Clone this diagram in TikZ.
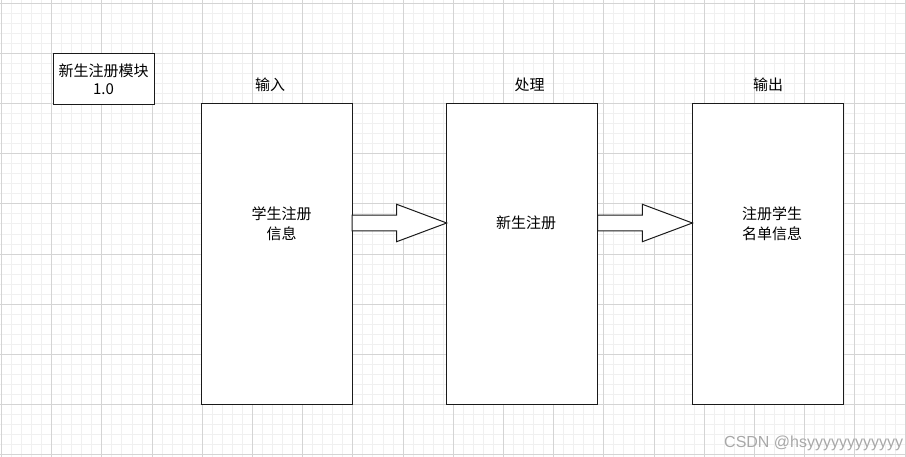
\documentclass[tikz,border=0pt]{standalone}
\usepackage{fontspec}
\setmainfont{Noto Sans CJK SC}
\newfontfamily\wmfont{Liberation Sans}
\usetikzlibrary{positioning,calc}
\definecolor{gridmaj}{HTML}{D4D4D4}
\definecolor{gridmin}{HTML}{F0F0F0}
\definecolor{boxline}{HTML}{1A1A1A}
\definecolor{wmgray}{HTML}{A8A8A8}

\begin{document}
\begin{tikzpicture}[x=1pt,y=-1pt,font=\fontsize{15}{20}\selectfont,node distance=94.7pt,
  minorline/.style={draw=gridmin,line width=1pt},
  majorline/.style={draw=gridmaj,line width=1pt},
  stagebox/.style={draw=boxline,fill=white,line width=1pt,minimum width=151pt,minimum height=301pt,
    outer sep=0pt,inner sep=0pt},
  modbox/.style={draw=boxline,fill=white,line width=1pt,minimum width=101pt,minimum height=50.5pt,
    align=center,inner sep=0pt,font=\fontsize{15}{18}\selectfont},
  stagetxt/.style={align=center,inner sep=0pt},
  fatar/.style={draw=boxline,fill=white,line width=1pt,line join=miter}]
\useasboundingbox (0,0) rectangle (906,457);
% background grid
\foreach \i in {0,...,90} \draw[minorline] ({1.5+10.04*\i},0) -- ({1.5+10.04*\i},457);
\foreach \j in {0,...,45} \draw[minorline] (0,{3.1+10.04*\j}) -- (906,{3.1+10.04*\j});
\foreach \i in {0,...,18} \draw[majorline] ({1.5+50.2*\i},0) -- ({1.5+50.2*\i},457);
\foreach \j in {0,...,9} \draw[majorline] (0,{3.1+50.2*\j}) -- (906,{3.1+50.2*\j});
% module label
\node[modbox,anchor=north west](mod) at (52.5,53.5){新生注册模块\\1.0};
% stages
\node[stagebox,anchor=north west](in) at (201,103.7){};
\node[stagebox,right=of in](proc){};
\node[stagebox,right=of proc](out){};
\node[stagetxt](inlbl) at (270,85){输入};
\node[stagetxt](proclbl) at (529.5,85){处理};
\node[stagetxt](outlbl) at (768,85){输出};
\node[stagetxt](intxt) at (281.7,223.3){学生注册\\信息};
\node[stagetxt](proctxt) at (526,222.5){新生注册};
\node[stagetxt](outtxt) at (772,223.3){注册学生\\名单信息};
% block arrows
\coordinate (ar) at (0,223);
\foreach \a/\b in {in/proc,proc/out}
  \draw[fatar] ($(\a.east|-ar)+(0,-7.8)$) -- ($(\b.west|-ar)+(-50,-7.8)$) -- ($(\b.west|-ar)+(-50,-18.7)$)
    -- (\b.west|-ar) -- ($(\b.west|-ar)+(-50,18.7)$) -- ($(\b.west|-ar)+(-50,7.8)$)
    -- ($(\a.east|-ar)+(0,7.8)$) -- cycle;
\node[font=\wmfont\fontsize{16}{16}\selectfont,text=wmgray,anchor=base west,inner sep=0pt](wm)
  at (724,447){CSDN @hsyyyyyyyyyyyy};
\end{tikzpicture}
\end{document}
